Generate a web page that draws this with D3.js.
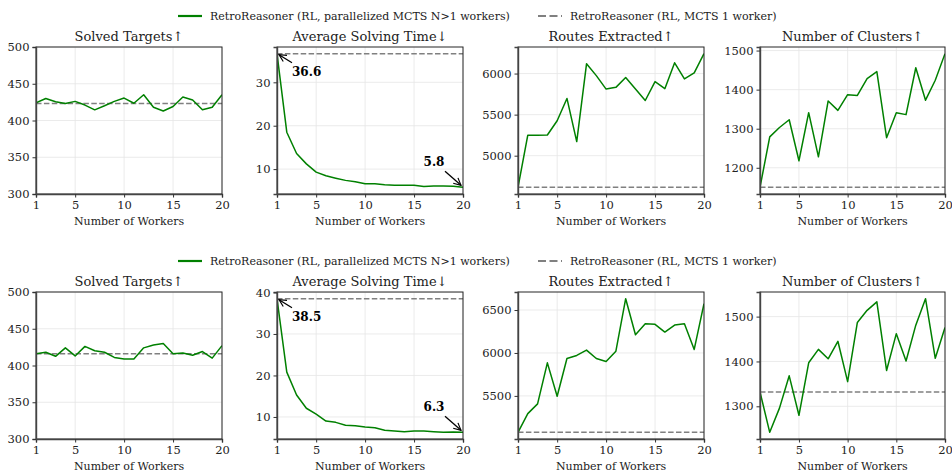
<!DOCTYPE html>
<html>
<head>
<meta charset="utf-8">
<script src="https://cdn.jsdelivr.net/npm/d3@7"></script>
<style>
  html, body { margin: 0; padding: 0; background: #fff; }
  svg, svg text { font-family: "DejaVu Serif", serif !important; }
</style>
</head>
<body>
<svg id="chart" width="952" height="472"></svg>
<script>
// ---------------- data ----------------
const workers = d3.range(1, 21);
const xTicks = [1, 5, 10, 15, 20];
const legendLabels = ["RetroReasoner (RL, parallelized MCTS N>1 workers)", "RetroReasoner (RL, MCTS 1 worker)"];
const panelTitles = ["Solved Targets\u2191", "Average Solving Time\u2193", "Routes Extracted\u2191", "Number of Clusters\u2191"];
const xLabel = "Number of Workers";

// Row 1
const solved1 = [424, 430, 425.5, 423, 426, 421, 414.5, 420, 426, 430.5, 423.5, 435, 418, 413, 419, 432, 428, 414.5, 418, 435];
const time1 = [36.6, 18.5, 13.6, 11.2, 9.3, 8.45, 7.9, 7.4, 7.1, 6.6, 6.6, 6.4, 6.3, 6.3, 6.3, 6.0, 6.1, 6.1, 6.05, 5.8];
const routes1 = [4615, 5250, 5250, 5252, 5426, 5697, 5172, 6119, 5975, 5811, 5832, 5951, 5811, 5672, 5902, 5816, 6131, 5934, 6008, 6242];
const clusters1 = [1150, 1279, 1303, 1323, 1218, 1341, 1228, 1371, 1347, 1387, 1385, 1428, 1446, 1277, 1341, 1336, 1456, 1373, 1424, 1492];
const base1 = [423, 36.6, 4615, 1150];

// Row 2
const solved2 = [416, 418, 412.5, 424, 413, 426, 420, 418, 411, 409, 409, 424, 428, 430, 416, 417, 414, 419, 410, 427];
const time2 = [38.5, 20.8, 15.3, 12.1, 10.7, 9.0, 8.7, 8.0, 7.9, 7.6, 7.4, 6.8, 6.6, 6.45, 6.6, 6.6, 6.45, 6.3, 6.4, 6.3];
const routes2 = [5076, 5294, 5407, 5885, 5496, 5936, 5971, 6033, 5936, 5901, 6021, 6632, 6212, 6340, 6333, 6243, 6325, 6340, 6041, 6574];
const clusters2 = [1332, 1242, 1296, 1368, 1280, 1397, 1427, 1406, 1445, 1355, 1487, 1514, 1533, 1380, 1462, 1401, 1481, 1540, 1407, 1476];
const base2 = [416, 38.5, 5076, 1332];

// y tick labels per panel
const yTicksRow1 = [[300, 350, 400, 450, 500], [10, 20, 30], [5000, 5500, 6000], [1200, 1300, 1400, 1500]];
const yTicksRow2 = [[300, 350, 400, 450, 500], [10, 20, 30, 40], [5500, 6000, 6500], [1300, 1400, 1500]];

// ---------------- layout ----------------
const FONT = "DejaVu Serif, serif";
const svg = d3.select("#chart");
const GREEN = "#008000", GRAY = "#808080";
const panelX = [[36, 222], [277, 463], [518, 704], [760, 945]];
const rows = [
  { top: 47, bottom: 194, legendY: 16, series: [solved1, time1, routes1, clusters1], base: base1, yTicks: yTicksRow1 },
  { top: 292, bottom: 439, legendY: 261, series: [solved2, time2, routes2, clusters2], base: base2, yTicks: yTicksRow2 }
];

svg.append("defs").append("marker")
  .attr("id", "arrow").attr("viewBox", "0 0 10 10")
  .attr("refX", 9).attr("refY", 5)
  .attr("markerWidth", 9).attr("markerHeight", 9)
  .attr("markerUnits", "userSpaceOnUse")
  .attr("orient", "auto")
  .append("path").attr("d", "M1,1 L9,5 L1,9").attr("fill", "none")
  .attr("stroke", "#000").attr("stroke-width", 1.3);

rows.forEach(row => {
  // legend
  const lg = svg.append("g").attr("font-family", FONT);
  lg.append("line").attr("x1", 178).attr("x2", 202).attr("y1", row.legendY).attr("y2", row.legendY)
    .attr("stroke", GREEN).attr("stroke-width", 2.2);
  lg.append("text").attr("x", 210).attr("y", row.legendY + 4).attr("font-size", 11).attr("fill", "#222")
    .attr("font-family", FONT).text(legendLabels[0]);
  lg.append("line").attr("x1", 538).attr("x2", 562).attr("y1", row.legendY).attr("y2", row.legendY)
    .attr("stroke", GRAY).attr("stroke-width", 2.2).attr("stroke-dasharray", "8,3.5");
  lg.append("text").attr("x", 570).attr("y", row.legendY + 4).attr("font-size", 11).attr("fill", "#222")
    .attr("font-family", FONT).text(legendLabels[1]);

  row.series.forEach((vals, i) => {
    const [x0, x1] = panelX[i];
    const x = d3.scaleLinear().domain([1, 20]).range([x0, x1]);
    let domain;
    if (i === 0) {
      domain = [300, 500];
    } else {
      const lo = Math.min(d3.min(vals), row.base[i]);
      const hi = Math.max(d3.max(vals), row.base[i]);
      const m = (hi - lo) * 0.05;
      domain = [lo - m, hi + m];
    }
    const y = d3.scaleLinear().domain(domain).range([row.bottom, row.top]);
    const g = svg.append("g").attr("font-family", FONT);

    // grid
    g.append("g").selectAll("line").data(xTicks).join("line")
      .attr("x1", d => x(d)).attr("x2", d => x(d)).attr("y1", row.top).attr("y2", row.bottom)
      .attr("stroke", "#e6e6e6").attr("stroke-width", 0.8);
    g.append("g").selectAll("line").data(row.yTicks[i]).join("line")
      .attr("x1", x0).attr("x2", x1).attr("y1", d => y(d)).attr("y2", d => y(d))
      .attr("stroke", "#e6e6e6").attr("stroke-width", 0.8);

    // baseline
    g.append("line").attr("x1", x0).attr("x2", x1)
      .attr("y1", y(row.base[i])).attr("y2", y(row.base[i]))
      .attr("stroke", GRAY).attr("stroke-width", 1.5).attr("stroke-dasharray", "5.5,2.4");

    // line
    const clipId = "clip" + row.top + "_" + i;
    g.append("clipPath").attr("id", clipId).append("rect")
      .attr("x", x0).attr("y", row.top).attr("width", x1 - x0).attr("height", row.bottom - row.top);
    g.append("path").datum(vals)
      .attr("clip-path", `url(#${clipId})`)
      .attr("d", d3.line().x((d, k) => x(workers[k])).y(d => y(d)))
      .attr("fill", "none").attr("stroke", GREEN).attr("stroke-width", 1.5)
      .attr("stroke-linejoin", "round");

    // frame
    g.append("rect").attr("x", x0).attr("y", row.top).attr("width", x1 - x0).attr("height", row.bottom - row.top)
      .attr("fill", "none").attr("stroke", "#262626").attr("stroke-width", 1);

    // axes
    const xa = g.append("g").attr("transform", `translate(0,${row.bottom})`)
      .call(d3.axisBottom(x).tickValues(xTicks).tickSize(3.5).tickPadding(3).tickFormat(d3.format("d")));
    const ya = g.append("g").attr("transform", `translate(${x0},0)`)
      .call(d3.axisLeft(y).tickValues(row.yTicks[i]).tickSize(3.5).tickPadding(3).tickFormat(d3.format("d")));
    [xa, ya].forEach(a => {
      a.attr("font-family", FONT).attr("font-size", 11.5);
      a.select(".domain").attr("stroke", "#444").attr("stroke-width", 1.4);
      a.selectAll(".tick line").attr("stroke", "#333").attr("stroke-width", 1);
      a.selectAll("text").attr("font-family", FONT).attr("font-size", 11.5).attr("fill", "#222");
    });

    // labels
    g.append("text").attr("x", (x0 + x1) / 2).attr("y", row.bottom + 31).attr("text-anchor", "middle")
      .attr("font-family", FONT).attr("font-size", 11).attr("fill", "#222").text(xLabel);
    g.append("text").attr("x", (x0 + x1) / 2).attr("y", row.top - 6).attr("text-anchor", "middle")
      .attr("font-family", FONT).attr("font-size", 13).attr("fill", "#222").text(panelTitles[i]);

    // annotations on solving time
    if (i === 1) {
      const first = { px: x(workers[0]), py: y(vals[0]), v: vals[0] };
      const last = { px: x(workers[19]), py: y(vals[19]), v: vals[19] };
      g.append("line").attr("x1", first.px + 15).attr("y1", first.py + 9)
        .attr("x2", first.px + 2).attr("y2", first.py + 1)
        .attr("stroke", "#000").attr("stroke-width", 1.3).attr("marker-end", "url(#arrow)");
      g.append("text").attr("x", first.px + 15).attr("y", first.py + 22)
        .attr("font-family", FONT).attr("font-size", 12).attr("font-weight", "bold").attr("fill", "#000").text(first.v.toFixed(1));
      g.append("line").attr("x1", last.px - 18).attr("y1", last.py - 16)
        .attr("x2", last.px - 2).attr("y2", last.py - 2)
        .attr("stroke", "#000").attr("stroke-width", 1.3).attr("marker-end", "url(#arrow)");
      g.append("text").attr("x", last.px - 29).attr("y", last.py - 21).attr("text-anchor", "middle")
        .attr("font-family", FONT).attr("font-size", 12).attr("font-weight", "bold").attr("fill", "#000").text(last.v.toFixed(1));
    }
  });
});
</script>
</body>
</html>
